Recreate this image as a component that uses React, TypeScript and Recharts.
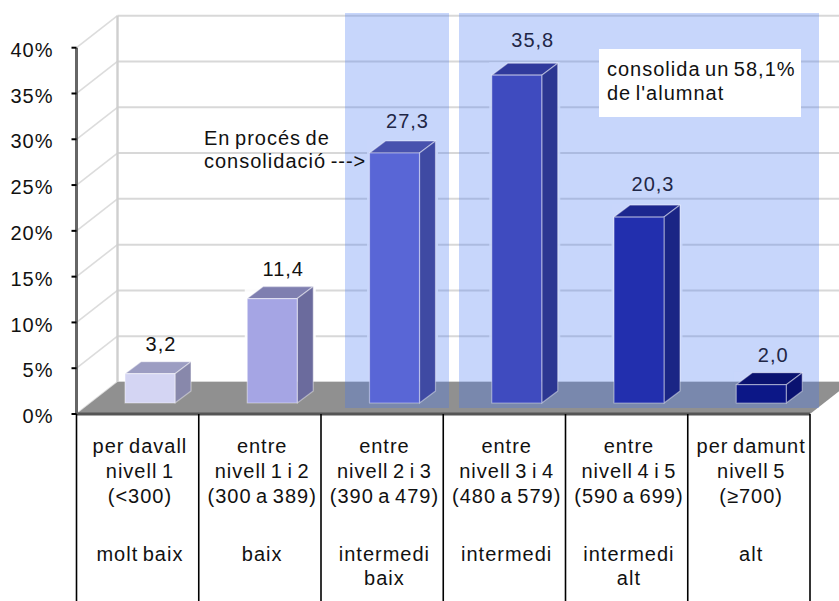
import React from "react";
import { BarChart, Bar, XAxis, YAxis, CartesianGrid, LabelList } from "recharts";

const W = 839;
const H = 601;

// data
const levels = ["n1", "n12", "n23", "n34", "n45", "n5"];
const percentages = [3.2, 11.4, 27.3, 35.8, 20.3, 2.0];
const valueLabels = ["3,2", "11,4", "27,3", "35,8", "20,3", "2,0"];
const categoryLines = [
  ["per davall", "nivell 1", "(<300)"],
  ["entre", "nivell 1 i 2", "(300 a 389)"],
  ["entre", "nivell 2 i 3", "(390 a 479)"],
  ["entre", "nivell 3 i 4", "(480 a 579)"],
  ["entre", "nivell 4 i 5", "(590 a 699)"],
  ["per damunt", "nivell 5", "(≥700)"],
];
const levelNames = [["molt baix"], ["baix"], ["intermedi", "baix"], ["intermedi"], ["intermedi", "alt"], ["alt"]];
const yTicks = [0, 5, 10, 15, 20, 25, 30, 35, 40];

const frontColors = ["#d4d5f3", "#a5a5e4", "#5966d6", "#3f4bbf", "#222fae", "#0c1787"];
const sideColors = ["#8888ab", "#6b6b9d", "#3f4aa3", "#2c3792", "#1a2585", "#0a1270"];
const topColors = ["#9c9dc2", "#7f7fb0", "#4852ae", "#303a9c", "#1c278f", "#0a1270"];
const haloColors = ["#ffffff", "#ffffff", "#c8d6fb", "#c8d6fb", "#c8d6fb", "#c8d6fb"];
const labelNudgeX = [0, 0, 2, 5, 3, 1];
const labelNudgeY = [-23, -23, -25, -28, -26, -23];

const rows = levels.map((level, i) => ({ level, pct: percentages[i], label: valueLabels[i], index: i }));

// layout
const LEFT = 76.5;
const RIGHT = 810;
const TOP = 47.7;
const BOTTOM = 414;
const WALL_DX = 41;
const WALL_DY = -32;
const BAR_DX = 12.5;
const BAR_DY = -11;
const DEPTH_X = 16;
const DEPTH_Y = -12;
const BAND = (RIGHT - LEFT) / 6;
const FONT = "'Liberation Sans', Arial, sans-serif";
const textStyle = { fontFamily: FONT, fontSize: 20, letterSpacing: 1, wordSpacing: -2 };
const toY = (v: number) => BOTTOM - (v / 40) * (BOTTOM - TOP);

const Box3D = (props: any) => {
  const { x, y, width, height, index } = props;
  const l = x + BAR_DX;
  const r = l + width;
  const t = y + BAR_DY;
  const b = t + height;
  const edge = { stroke: "rgba(255,255,255,0.42)", strokeWidth: 1.2, strokeLinejoin: "round" as const };
  const floorBack = BOTTOM + WALL_DY;
  return (
    <g>
      {t + DEPTH_Y < floorBack && (
        <rect x={l - 2.5} y={t + DEPTH_Y - 1} width={width + DEPTH_X + 5} height={floorBack - t - DEPTH_Y - 1} fill={haloColors[index]} opacity={0.9} />
      )}
      <polygon points={`${l},${t} ${r},${t} ${r + DEPTH_X},${t + DEPTH_Y} ${l + DEPTH_X},${t + DEPTH_Y}`} fill={topColors[index]} {...edge} />
      <polygon points={`${r},${t} ${r + DEPTH_X},${t + DEPTH_Y} ${r + DEPTH_X},${b + DEPTH_Y} ${r},${b}`} fill={sideColors[index]} {...edge} />
      <rect x={l} y={t} width={width} height={height} fill={frontColors[index]} {...edge} />
    </g>
  );
};

const CategoryTick = (props: any) => {
  const { x, index } = props;
  const cx = x + 2.3;
  return (
    <g>
      <line x1={x - BAND / 2} x2={x - BAND / 2} y1={BOTTOM} y2={H} stroke="#000" strokeWidth={1.6} />
      {index === 5 && <line x1={x + BAND / 2} x2={x + BAND / 2} y1={BOTTOM} y2={H} stroke="#000" strokeWidth={1.6} />}
      {categoryLines[index].map((s, i) => (
        <text key={i} x={cx} y={BOTTOM + 38.5 + i * 25} textAnchor="middle" fill="#111" style={textStyle}>{s}</text>
      ))}
      {levelNames[index].map((s, i) => (
        <text key={i} x={cx} y={BOTTOM + 146.5 + i * 24.5} textAnchor="middle" fill="#111" style={textStyle}>{s}</text>
      ))}
    </g>
  );
};

const ValueLabel = (props: any) => {
  const { x, y, width, index } = props;
  return (
    <text x={x + BAR_DX + width / 2 + 11 + labelNudgeX[index]} y={y + BAR_DY + labelNudgeY[index]} textAnchor="middle" fill={index < 2 ? "#111" : "#1f2747"} style={textStyle}>
      {valueLabels[index]}
    </text>
  );
};

export default function App() {
  return (
    <div style={{ position: "absolute", left: 0, top: 0, width: W, height: H, overflow: "hidden", background: "#fff" }}>
      <BarChart
        width={W}
        height={H}
        data={rows}
        margin={{ left: 0, right: W - RIGHT, top: TOP, bottom: 0 }}
        barCategoryGap={0}
      >
        {/* side wall, back wall edge */}
        <g>
          {yTicks.map((t) => (
            <line key={t} x1={LEFT} y1={toY(t)} x2={LEFT + WALL_DX} y2={toY(t) + WALL_DY} stroke="#dcdcdc" strokeWidth={1.6} />
          ))}
          <line x1={LEFT + WALL_DX} y1={TOP + WALL_DY} x2={LEFT + WALL_DX} y2={BOTTOM + WALL_DY} stroke="#cfcfcf" strokeWidth={2.4} />
        </g>
        <CartesianGrid
          vertical={false}
          x={LEFT + WALL_DX}
          width={RIGHT - LEFT}
          horizontalPoints={yTicks.map((t) => toY(t) + WALL_DY)}
          stroke="#d8d8d8"
          strokeWidth={2}
        />
        {/* floor */}
        <polygon
          points={`${LEFT},${BOTTOM} ${LEFT + WALL_DX},${BOTTOM + WALL_DY} ${RIGHT + WALL_DX},${BOTTOM + WALL_DY} ${RIGHT},${BOTTOM}`}
          fill="#909090"
        />
        {/* highlighted bands */}
        <rect x={345} y={13} width={104} height={395} fill="rgb(71,118,241)" opacity={0.3} />
        <rect x={459} y={13} width={360} height={395} fill="rgb(71,118,241)" opacity={0.3} />
        <XAxis
          dataKey="level"
          height={H - BOTTOM}
          interval={0}
          tickLine={false}
          axisLine={{ stroke: "#555", strokeWidth: 3 }}
          tick={<CategoryTick />}
        />
        <YAxis
          width={LEFT}
          domain={[0, 40]}
          ticks={yTicks}
          interval={0}
          tickSize={5}
          tickMargin={18}
          tickFormatter={(v: number) => `${v}%`}
          axisLine={{ stroke: "#666", strokeWidth: 3 }}
          tickLine={{ stroke: "#000", strokeWidth: 2 }}
          tick={{ fill: "#111", style: textStyle, dy: 2 }}
        />
        <Bar dataKey="pct" barSize={50} isAnimationActive={false} shape={<Box3D />}>
          <LabelList dataKey="label" content={<ValueLabel />} />
        </Bar>
        {/* annotations */}
        <g style={textStyle} fill="#111">
          <text x={204} y={145}>En procés de</text>
          <text x={204} y={168}>consolidació ---&gt;</text>
          <rect x={599} y={49} width={202} height={68} fill="#fff" />
          <text x={607} y={76}>consolida un 58,1%</text>
          <text x={607} y={100}>de l'alumnat</text>
        </g>
      </BarChart>
    </div>
  );
}
